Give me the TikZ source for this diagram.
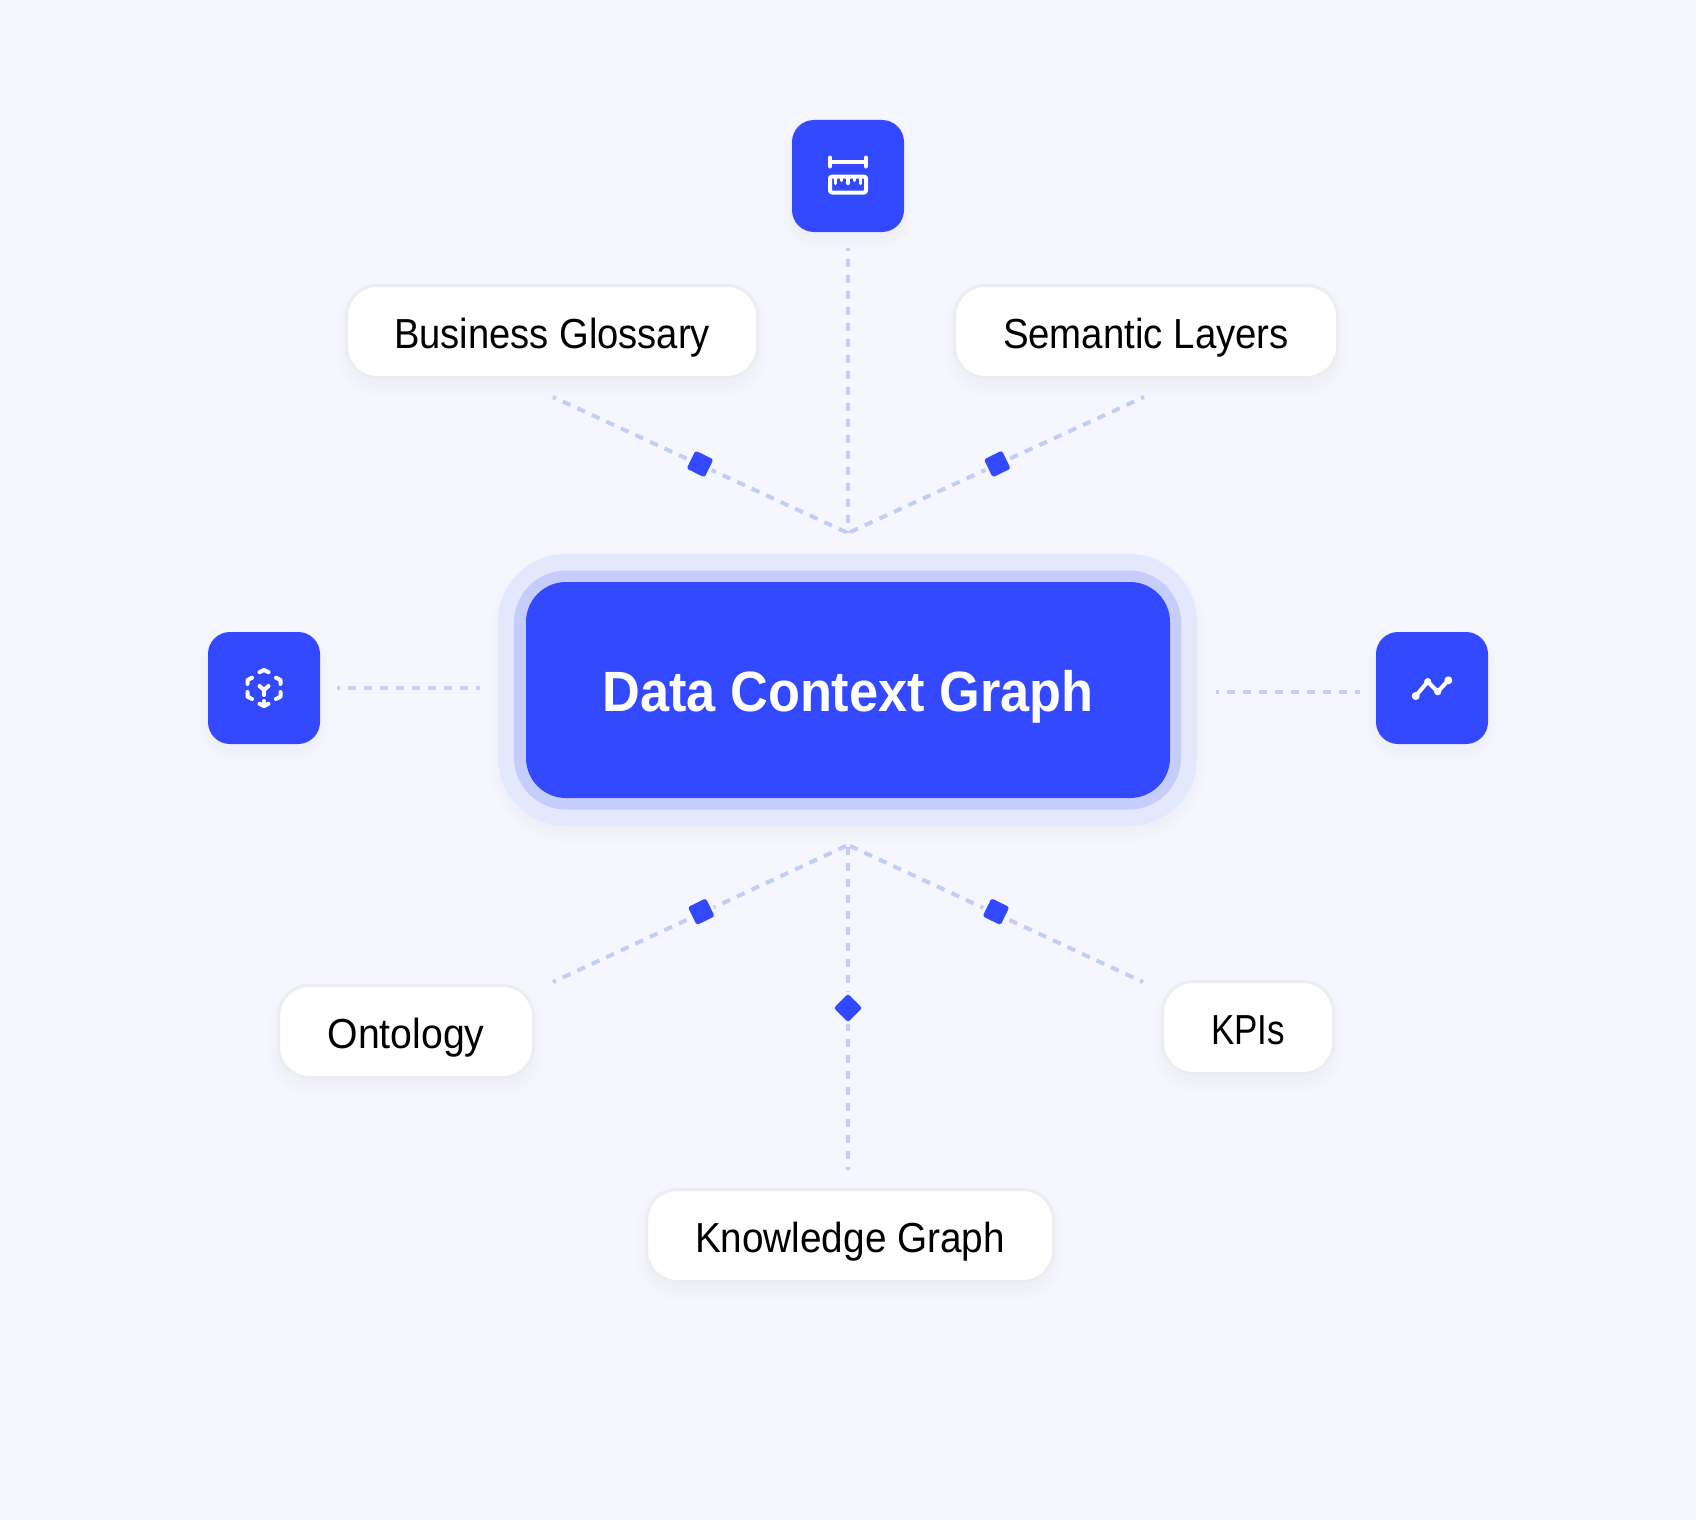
\documentclass[tikz,border=0pt]{standalone}
\usepackage{graphicx}
\usepackage{fontspec}
\setmainfont{Liberation Sans}
\newfontfamily\titlefont{Liberation Sans Bold}
\definecolor{pagebg}{HTML}{F5F6FE}
\definecolor{brandblue}{HTML}{3349FF}
\definecolor{ringinner}{HTML}{C7CDFB}
\definecolor{ringouter}{HTML}{E4E8FD}
\definecolor{dashblue}{HTML}{C2CEF4}
\definecolor{pilledge}{HTML}{ECEDF1}
\definecolor{shadowtint}{HTML}{5060A0}
\newcommand{\softshadow}[5]{%
  \foreach \i in {0,1,2,3,4,5}{%
    \pgfmathsetmacro{\pad}{\i*2.4-2}%
    \pgfmathsetmacro{\rad}{(#5+\i*2.4)*0.5}%
    \fill[shadowtint,fill opacity=0.004,rounded corners=\rad pt]
      (#1-\pad,#2-\pad+8) rectangle (#3+\pad,#4+\pad+8);
  }%
}
\tikzset{
  link/.style={draw=dashblue,line width=2pt,dash pattern=on 4.2pt off 3.8pt,dash phase=2.6pt},
  pillbox/.style={draw=pilledge,line width=1.5pt,fill=white,rounded corners=15.5pt,
    minimum height=46pt,inner sep=0pt,text=black,font=\fontsize{21}{21}\selectfont,
    text height=16.5pt,text depth=0pt},
  iconbox/.style={fill=brandblue,rounded corners=11pt,minimum size=56pt,inner sep=0pt},
  marker/.style={fill=brandblue,rounded corners=1.2pt,
    minimum size=10pt,inner sep=0pt,outer sep=0pt,
    preaction={draw=pagebg,line width=3pt}},
  glyph/.style={draw=white,line width=2pt,line cap=round,line join=round},
  glyphthin/.style={draw=white,line width=1.6pt,line cap=round,line join=round},
  ring/.style={inner sep=0pt},
}
\begin{document}
\begin{tikzpicture}[x=0.5pt,y=-0.5pt]
\useasboundingbox (0,0) rectangle (1696,1520);
\fill[pagebg] (0,0) rectangle (1696,1520);

% soft shadows
\softshadow{498}{554}{1197}{826}{68}
\softshadow{345}{284}{759}{379}{32}
\softshadow{953}{284}{1339}{379}{32}
\softshadow{277}{984}{535}{1079}{32}
\softshadow{1161}{980}{1335}{1075}{32}
\softshadow{645}{1188}{1055}{1283}{32}
\softshadow{792}{120}{904}{232}{22}
\softshadow{208}{632}{320}{744}{22}
\softshadow{1376}{632}{1488}{744}{22}

% central block
\node[ring,fill=ringouter,rounded corners=34pt,minimum width=349.5pt,minimum height=136pt] (haloOuter) at (847.5,690) {};
\node[ring,fill=ringinner,rounded corners=26pt,minimum width=333.5pt,minimum height=119.5pt] (haloInner) at (847.5,690) {};
\node[ring,fill=brandblue,rounded corners=20pt,minimum width=322pt,minimum height=108pt,
      text=white,font=\titlefont\fontsize{28.4}{28.4}\selectfont,text height=21.7pt,text depth=0pt] (core) at (848,690)
      {\resizebox{245.5pt}{\height}{Data Context Graph}};

% hubs and free ends
\coordinate (hubTop) at (848,533);
\coordinate (hubBottom) at (848,845);
\coordinate (endTop) at (848,248);
\coordinate (endGlossary) at (553,397);
\coordinate (endSemantic) at (1144,397);
\coordinate (endOntology) at (553,982);
\coordinate (endKpi) at (1143,982);
\coordinate (endKnowledge) at (848,1170);
\coordinate (leftA) at (337,688);
\coordinate (leftB) at (480,688);
\coordinate (rightA) at (1216,692);
\coordinate (rightB) at (1360,692);

% connectors
\draw[link] (endTop) -- (hubTop);
\draw[link] (endGlossary) -- (hubTop);
\draw[link] (endSemantic) -- (hubTop);
\draw[link] (endKnowledge) -- (hubBottom);
\draw[link] (endOntology) -- (hubBottom);
\draw[link] (endKpi) -- (hubBottom);
\draw[link] (leftA) -- (leftB);
\draw[link] (rightA) -- (rightB);

% markers
\node[marker,rotate=-26] (mGlossary) at (700,464) {};
\node[marker,rotate=26] (mSemantic) at (997.3,464) {};
\node[marker,rotate=26] (mOntology) at (701.3,911.7) {};
\node[marker,rotate=-26] (mKpi) at (996,911.7) {};
\node[marker,rotate=45] (mKnowledge) at (848,1008) {};

% labels
\node[pillbox,minimum width=205.5pt] (glossary) at (552,331.5) {\resizebox{158pt}{\height}{Business Glossary}};
\node[pillbox,minimum width=191.5pt] (semantic) at (1146,331.5) {\resizebox{143pt}{\height}{Semantic Layers}};
\node[pillbox,minimum width=127.5pt] (ontology) at (406,1031.5) {\resizebox{78.5pt}{\height}{Ontology}};
\node[pillbox,minimum width=85.5pt] (kpis) at (1248,1027.5) {\resizebox{37pt}{\height}{KPIs}};
\node[pillbox,minimum width=203.5pt] (knowledge) at (850,1235.5) {\resizebox{155pt}{\height}{Knowledge Graph}};

% icon tiles
\node[iconbox] (iconRuler) at (848,176) {};
\node[iconbox] (iconCube) at (264,688) {};
\node[iconbox] (iconChart) at (1432,688) {};

% ruler glyph
\draw[glyph] (830,161.7) -- (866,161.7);
\draw[glyph] (830,157.5) -- (830,166.5);
\draw[glyph] (866,157.5) -- (866,166.5);
\draw[glyph,rounded corners=1pt] (830,176.5) rectangle (866,192.5);
\draw[glyphthin] (835.7,177) -- (835.7,183.5);
\draw[glyphthin] (841.7,177) -- (841.7,180.5);
\draw[glyphthin] (848,177) -- (848,183.5);
\draw[glyphthin] (854.3,177) -- (854.3,180.5);
\draw[glyphthin] (860.5,177) -- (860.5,183.5);

% cube glyph
\draw[glyph] (259.5,672.2) -- (264,670) -- (268.5,672.2);
\draw[glyph] (252,677.7) -- (247.5,680) -- (247.5,684);
\draw[glyph] (276,677.7) -- (280.5,680) -- (280.5,684);
\draw[glyph] (247.5,692) -- (247.5,696.7) -- (252,699);
\draw[glyph] (280.5,692) -- (280.5,696.7) -- (276,699);
\draw[glyph] (259.5,703.8) -- (264,706) -- (268.5,703.8);
\draw[glyph] (264,701) -- (264,706);
\draw[glyph] (259.5,686) -- (264,690) -- (268.5,686);
\draw[glyph] (264,690) -- (264,695);

% chart glyph
\draw[glyph] (1415.7,696) -- (1427.7,681.7) -- (1437.7,691.7) -- (1448.3,680.3);
\fill[white] (1415.7,696) circle (2pt);
\fill[white] (1427.7,681.7) circle (1.8pt);
\fill[white] (1437.7,691.7) circle (1.8pt);
\fill[white] (1448.3,680.3) circle (2pt);
\end{tikzpicture}
\end{document}
